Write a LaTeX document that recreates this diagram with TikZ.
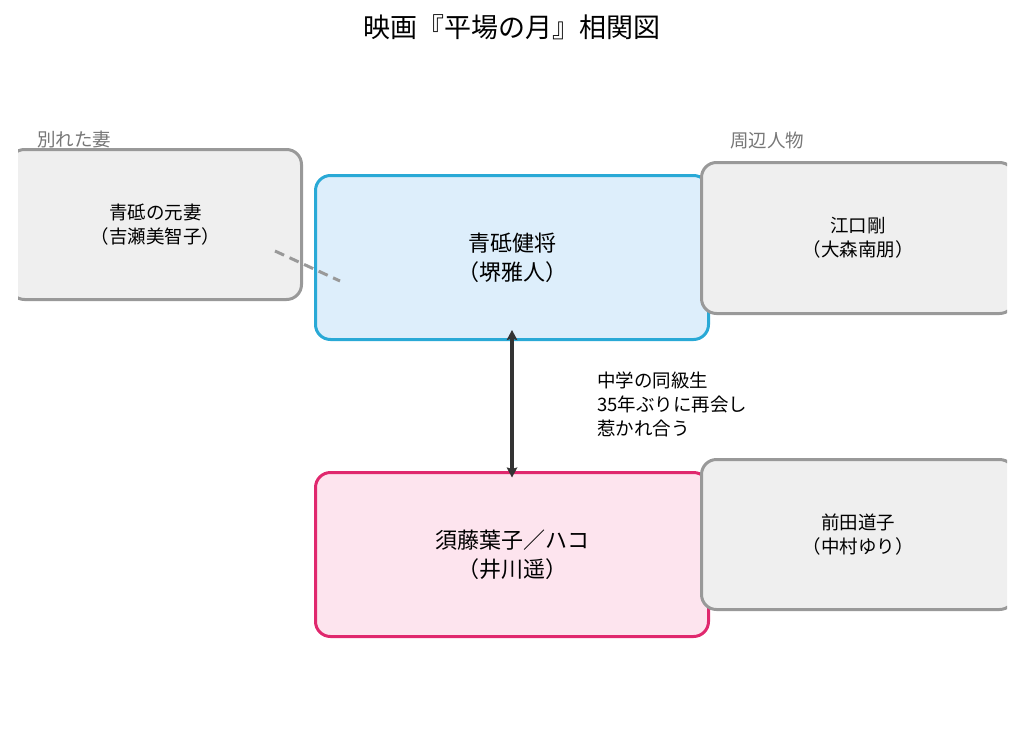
\documentclass[tikz,border=0pt]{standalone}
\usepackage{fontspec}
\setmainfont{Noto Sans CJK JP}
\usetikzlibrary{positioning,arrows.meta}
\definecolor{kenblue}{HTML}{29A9D6}
\definecolor{kenfill}{HTML}{DDEEFB}
\definecolor{hakopink}{HTML}{E0286E}
\definecolor{hakofill}{HTML}{FDE4EE}
\definecolor{sidegray}{HTML}{999999}
\definecolor{sidefill}{HTML}{EFEFEF}
\definecolor{labelgray}{HTML}{777777}
\definecolor{tiedark}{HTML}{333333}

\begin{document}
\begin{tikzpicture}[x=1pt,y=-1pt,
    person/.style={draw, rounded corners=15pt, line width=3pt, align=center,
      inner sep=0pt, font=\fontsize{22}{29}\selectfont},
    sidebox/.style={person, draw=sidegray, fill=sidefill,
      minimum width=313pt, minimum height=151pt, font=\fontsize{18.5}{24}\selectfont},
    grouplabel/.style={text=labelgray, inner sep=0pt, anchor=base west,
      font=\fontsize{18.5}{20}\selectfont},
    tie/.style={draw=tiedark, line width=3.5pt,
      {Stealth[length=10pt,width=10.5pt,inset=1.5pt]}-{Stealth[length=10pt,width=10.5pt,inset=1.5pt]}}]
  \useasboundingbox (0,0) rectangle (1024,739);
  \clip (18,0) rectangle (1007,739);

  \node[font=\fontsize{27}{30}\selectfont] (title) at (512,27) {映画『平場の月』相関図};

  % main couple
  \node[person, draw=kenblue, fill=kenfill, minimum width=393pt, minimum height=164pt]
    (aoto) at (512,257.5) {青砥健将\\（堺雅人）};
  \node[person, draw=hakopink, fill=hakofill, minimum width=393pt, minimum height=164pt]
    (hako) [below=130pt of aoto] {須藤葉子／ハコ\\（井川遥）};

  % side people
  \node[sidebox, minimum width=292pt, minimum height=150pt]
    (exwife) [left=11pt of aoto, yshift=33pt] {青砥の元妻\\（吉瀬美智子）};
  \node[sidebox] (eguchi) [right=-10pt of aoto, yshift=19.5pt] {江口剛\\（大森南朋）};
  \node[sidebox, minimum height=150pt] (maeda) [right=-10pt of hako, yshift=20pt] {前田道子\\（中村ゆり）};

  \node[grouplabel] (lblwife) at (37,146) {別れた妻};
  \node[grouplabel] (lblside) at (730,147) {周辺人物};

  \draw[tie, shorten <=-11pt, shorten >=-6.5pt] (aoto.south) -- (hako.north);
  \node[anchor=west, align=left, inner sep=0pt, font=\fontsize{18.5}{24}\selectfont]
    (reunion) at (597,404) {中学の同級生\\35年ぶりに再会し\\惹かれ合う};

  \coordinate (wifeend) at (275,251);
  \coordinate (aotoend) at (340,281);
  \draw[sidegray, line width=3pt, dash pattern=on 10pt off 6pt] (wifeend) -- (aotoend);
\end{tikzpicture}
\end{document}
